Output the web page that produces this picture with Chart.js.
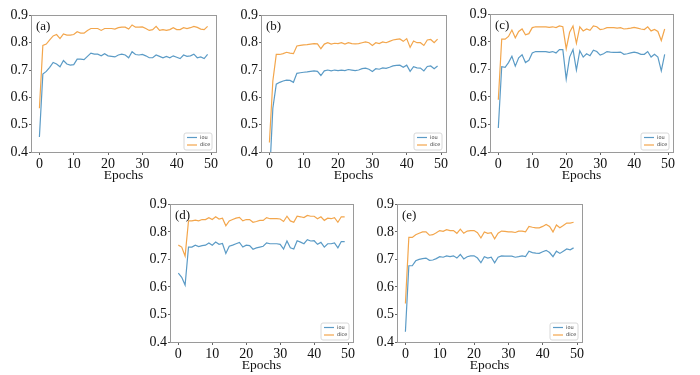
<!DOCTYPE html>
<html>
<head>
<meta charset="utf-8">
<script src="https://cdn.jsdelivr.net/npm/chart.js@4.4.0/dist/chart.umd.min.js"></script>
<style>
  body { margin: 0; background: #fff; width: 700px; height: 375px; position: relative; overflow: hidden; }
  .panel { position: absolute; }
</style>
</head>
<body>
<div class="panel" id="pa"><canvas id="ca"></canvas></div>
<div class="panel" id="pb"><canvas id="cb"></canvas></div>
<div class="panel" id="pc"><canvas id="cc"></canvas></div>
<div class="panel" id="pd"><canvas id="cd"></canvas></div>
<div class="panel" id="pe"><canvas id="ce"></canvas></div>
<script>
// epochs 0..49
const epochs = [0,1,2,3,4,5,6,7,8,9,10,11,12,13,14,15,16,17,18,19,20,21,22,23,24,25,26,27,28,29,30,31,32,33,34,35,36,37,38,39,40,41,42,43,44,45,46,47,48,49];
const xTicks = [0, 10, 20, 30, 40, 50];
const yTicks = [0.4, 0.5, 0.6, 0.7, 0.8, 0.9];
const seriesNames = ['iou', 'dice'];

// (a)
const iouA = [0.455,0.685,0.695,0.71,0.728,0.722,0.712,0.735,0.722,0.718,0.72,0.74,0.74,0.738,0.75,0.762,0.758,0.758,0.752,0.76,0.752,0.75,0.748,0.755,0.758,0.755,0.745,0.767,0.757,0.755,0.757,0.752,0.745,0.745,0.755,0.75,0.745,0.75,0.745,0.752,0.747,0.742,0.755,0.75,0.752,0.758,0.745,0.748,0.742,0.757];
const diceA = [0.56,0.79,0.795,0.81,0.825,0.83,0.815,0.832,0.828,0.828,0.83,0.84,0.835,0.835,0.845,0.852,0.852,0.852,0.845,0.852,0.852,0.852,0.85,0.855,0.857,0.857,0.85,0.865,0.857,0.857,0.858,0.852,0.845,0.848,0.86,0.845,0.848,0.845,0.848,0.855,0.848,0.848,0.855,0.852,0.855,0.86,0.856,0.85,0.848,0.86];
// (b)
const iouB = [0.3,0.56,0.648,0.655,0.66,0.663,0.662,0.655,0.688,0.69,0.692,0.693,0.695,0.697,0.695,0.68,0.697,0.7,0.697,0.7,0.698,0.7,0.698,0.702,0.7,0.698,0.7,0.705,0.707,0.703,0.695,0.705,0.703,0.708,0.706,0.71,0.715,0.717,0.718,0.71,0.718,0.695,0.712,0.708,0.707,0.697,0.713,0.715,0.705,0.715];
const diceB = [0.435,0.66,0.757,0.757,0.76,0.765,0.762,0.76,0.788,0.79,0.792,0.793,0.795,0.797,0.796,0.778,0.795,0.8,0.795,0.798,0.797,0.8,0.795,0.8,0.797,0.796,0.797,0.8,0.803,0.8,0.79,0.8,0.797,0.803,0.8,0.805,0.81,0.812,0.814,0.805,0.815,0.783,0.806,0.8,0.8,0.79,0.81,0.812,0.8,0.813];
// (c)
const iouC = [0.487,0.71,0.708,0.725,0.748,0.712,0.742,0.753,0.725,0.733,0.76,0.765,0.765,0.765,0.765,0.762,0.765,0.76,0.772,0.772,0.665,0.745,0.772,0.698,0.768,0.745,0.757,0.75,0.77,0.765,0.752,0.757,0.765,0.763,0.762,0.762,0.763,0.755,0.757,0.76,0.763,0.76,0.755,0.755,0.765,0.745,0.755,0.745,0.695,0.755];
const diceC = [0.59,0.81,0.81,0.82,0.843,0.815,0.838,0.847,0.826,0.83,0.852,0.855,0.855,0.855,0.855,0.853,0.855,0.852,0.858,0.855,0.775,0.835,0.858,0.795,0.855,0.84,0.847,0.842,0.858,0.855,0.845,0.847,0.852,0.852,0.852,0.85,0.852,0.847,0.848,0.85,0.853,0.85,0.847,0.845,0.855,0.84,0.845,0.838,0.805,0.847];
// (d)
const iouD = [0.65,0.635,0.607,0.745,0.745,0.752,0.747,0.75,0.752,0.76,0.752,0.763,0.755,0.758,0.722,0.748,0.752,0.757,0.762,0.745,0.752,0.75,0.737,0.742,0.745,0.748,0.76,0.757,0.757,0.757,0.755,0.738,0.767,0.742,0.738,0.768,0.763,0.757,0.772,0.767,0.768,0.755,0.762,0.745,0.757,0.757,0.76,0.742,0.765,0.765];
const diceD = [0.752,0.745,0.712,0.84,0.84,0.843,0.84,0.845,0.845,0.852,0.845,0.855,0.847,0.85,0.822,0.84,0.845,0.85,0.853,0.84,0.845,0.845,0.835,0.838,0.842,0.842,0.852,0.848,0.848,0.848,0.847,0.838,0.857,0.84,0.835,0.857,0.855,0.852,0.86,0.857,0.857,0.848,0.855,0.842,0.85,0.848,0.852,0.835,0.855,0.855];
// (e)
const iouE = [0.437,0.677,0.677,0.695,0.7,0.703,0.705,0.697,0.698,0.703,0.71,0.708,0.713,0.71,0.713,0.705,0.718,0.702,0.71,0.713,0.713,0.705,0.688,0.71,0.705,0.708,0.688,0.708,0.713,0.712,0.712,0.712,0.708,0.71,0.713,0.71,0.73,0.725,0.723,0.722,0.728,0.733,0.725,0.71,0.73,0.722,0.73,0.738,0.735,0.742];
const diceE = [0.54,0.78,0.78,0.79,0.795,0.8,0.8,0.788,0.79,0.797,0.805,0.802,0.808,0.805,0.805,0.795,0.81,0.795,0.803,0.805,0.805,0.797,0.778,0.8,0.795,0.797,0.775,0.795,0.803,0.802,0.8,0.8,0.798,0.803,0.803,0.8,0.82,0.817,0.815,0.815,0.82,0.827,0.82,0.8,0.825,0.815,0.823,0.832,0.832,0.835];

const iouColor = '#5b9bc6';
const diceColor = '#f3a64c';
const serif = "'Liberation Serif', 'DejaVu Serif', serif";

// chart area boxes [left, top, right, bottom] on the page
const panels = [
  { id: 'a', label: '(a)', iou: iouA, dice: diceA, box: [31, 15, 216, 152] },
  { id: 'b', label: '(b)', iou: iouB, dice: diceB, box: [261, 15, 446, 152] },
  { id: 'c', label: '(c)', iou: iouC, dice: diceC, box: [490, 14, 673, 152] },
  { id: 'd', label: '(d)', iou: iouD, dice: diceD, box: [170, 204, 353, 342] },
  { id: 'e', label: '(e)', iou: iouE, dice: diceE, box: [397, 204, 582, 342] }
];

const padL = 35, padT = 9, padR = 12, padB = 33;

// frame, panel letter and small legend box
const decorPlugin = {
  id: 'decor',
  afterDatasetsDraw(chart, args, opts) {
    const ctx = chart.ctx;
    const a = chart.chartArea;
    ctx.save();
    ctx.strokeStyle = '#9a9a9a';
    ctx.lineWidth = 1;
    ctx.strokeRect(Math.round(a.left) + 0.5, Math.round(a.top) + 0.5, Math.round(a.right - a.left), Math.round(a.bottom - a.top));

    ctx.fillStyle = '#111';
    ctx.font = '13px ' + serif;
    ctx.textBaseline = 'top';
    ctx.textAlign = 'left';
    ctx.fillText(opts.label, a.left + 5, a.top + 5);

    // legend
    const w = 28, h = 17;
    const x = a.right - w - 4, y = a.bottom - h - 2;
    ctx.fillStyle = 'rgba(255,255,255,0.9)';
    ctx.strokeStyle = '#d8d8d8';
    ctx.beginPath();
    ctx.roundRect(x, y, w, h, 2);
    ctx.fill();
    ctx.stroke();
    const colors = [iouColor, diceColor];
    ctx.font = '5px DejaVu Sans';
    ctx.textBaseline = 'middle';
    seriesNames.forEach((name, i) => {
      const ly = y + 4.5 + i * 7.5;
      ctx.strokeStyle = colors[i];
      ctx.lineWidth = 1.2;
      ctx.beginPath();
      ctx.moveTo(x + 3, ly);
      ctx.lineTo(x + 13, ly);
      ctx.stroke();
      ctx.fillStyle = '#333';
      ctx.fillText(name, x + 16, ly);
    });
    ctx.restore();
  }
};

panels.forEach(p => {
  const [l, t, r, b] = p.box;
  const div = document.getElementById('p' + p.id);
  const w = r - l + padL + padR;
  const h = b - t + padT + padB;
  div.style.left = (l - padL) + 'px';
  div.style.top = (t - padT) + 'px';
  div.style.width = w + 'px';
  div.style.height = h + 'px';

  new Chart(document.getElementById('c' + p.id), {
    type: 'line',
    data: {
      datasets: [{
        label: seriesNames[0],
        data: epochs.map((e, i) => ({ x: e, y: p.iou[i] })),
        borderColor: iouColor,
        borderWidth: 1.2,
        pointRadius: 0,
        tension: 0
      }, {
        label: seriesNames[1],
        data: epochs.map((e, i) => ({ x: e, y: p.dice[i] })),
        borderColor: diceColor,
        borderWidth: 1.2,
        pointRadius: 0,
        tension: 0
      }]
    },
    options: {
      responsive: true,
      maintainAspectRatio: false,
      animation: false,
      layout: { padding: { left: 0, top: padT, right: padR, bottom: 0 } },
      plugins: {
        legend: { display: false },
        tooltip: { enabled: false },
        decor: { label: p.label }
      },
      scales: {
        x: {
          type: 'linear',
          min: -2.45,
          max: 51.45,
          afterFit(scale) { scale.height = padB; },
          afterBuildTicks(scale) { scale.ticks = xTicks.map(v => ({ value: v })); },
          grid: { drawOnChartArea: false, drawTicks: true, tickLength: 3, color: '#666' },
          border: { display: false },
          ticks: { color: '#111', padding: 1, maxRotation: 0, font: { family: serif, size: 14 } },
          title: {
            display: true,
            text: 'Epochs',
            color: '#111',
            padding: { top: 0, bottom: 1 },
            font: { family: serif, size: 13.5 }
          }
        },
        y: {
          min: 0.4,
          max: 0.9,
          afterFit(scale) { scale.width = padL; },
          afterBuildTicks(scale) { scale.ticks = yTicks.map(v => ({ value: v })); },
          grid: { drawOnChartArea: false, drawTicks: true, tickLength: 2, color: '#666' },
          border: { display: false },
          ticks: {
            color: '#111',
            padding: 1,
            font: { family: serif, size: 14 },
            callback: v => v.toFixed(1)
          }
        }
      }
    },
    plugins: [decorPlugin]
  });
});
</script>
</body>
</html>
